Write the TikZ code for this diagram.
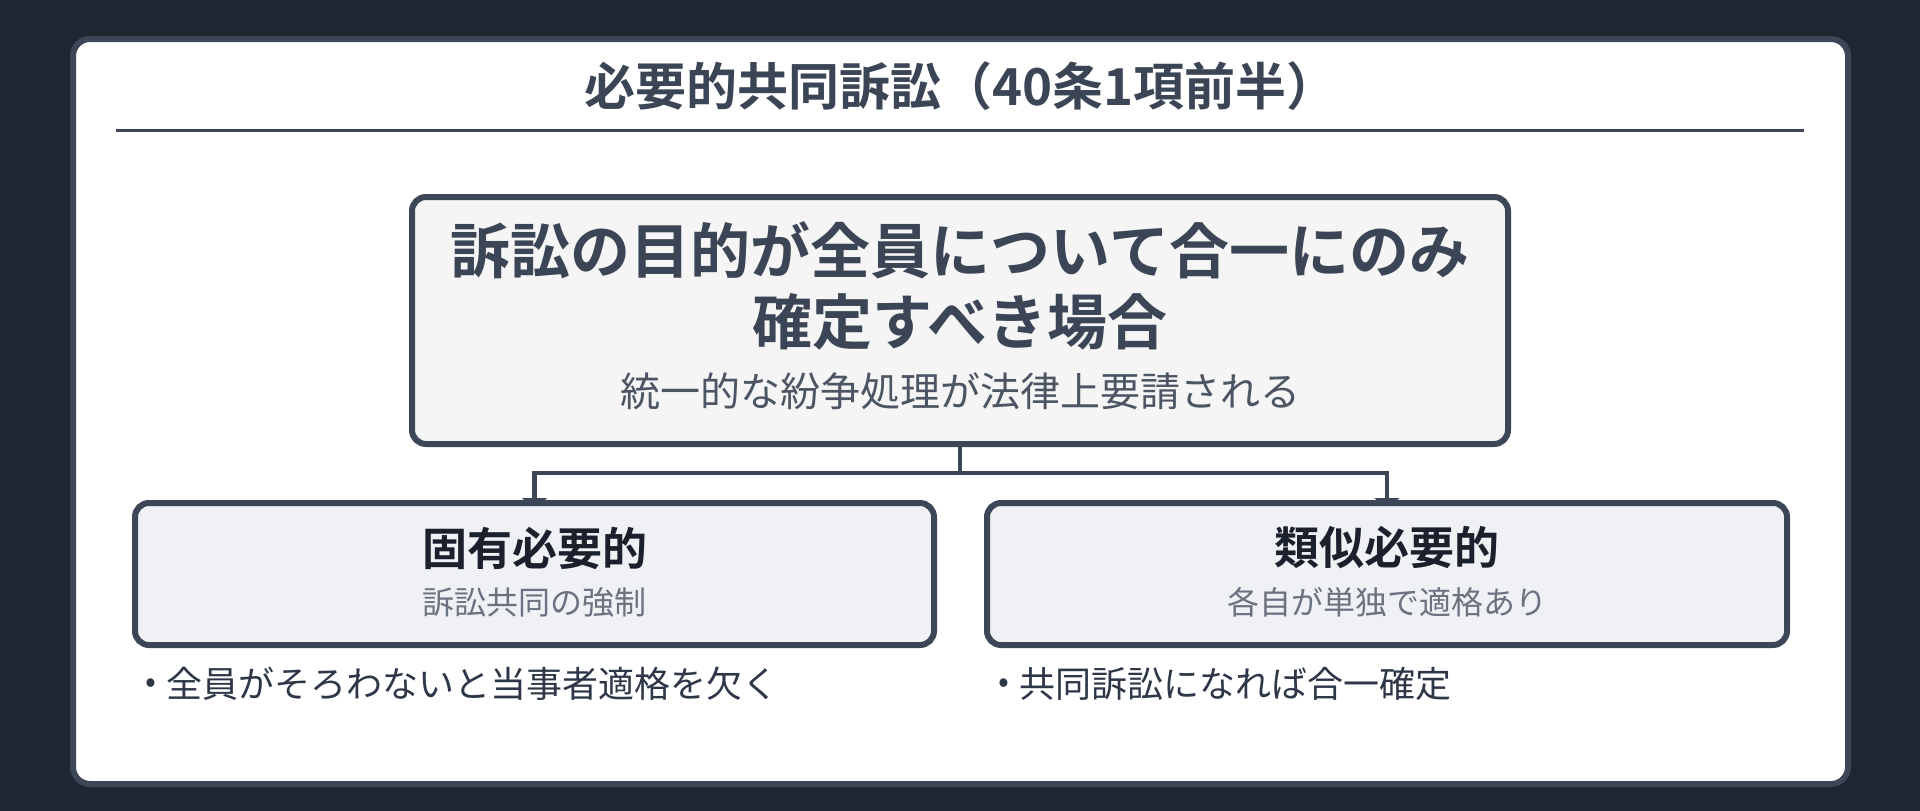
\documentclass[tikz,border=0pt]{standalone}
\usepackage{fontspec}
\newfontfamily\jp{Noto Sans CJK JP}[BoldFont={Noto Sans CJK JP Bold}]
\usetikzlibrary{arrows.meta}
\pgfdeclarelayer{back}
\pgfdeclarelayer{mid}
\pgfsetlayers{back,mid,main}
\definecolor{bgdark}{HTML}{1F2631}
\definecolor{bordercol}{HTML}{3C4656}
\definecolor{titlecol}{HTML}{3B4555}
\definecolor{subcol}{HTML}{4B5563}
\definecolor{mainfill}{HTML}{F5F5F5}
\definecolor{sidefill}{HTML}{EFF1F5}
\definecolor{sidetitle}{HTML}{1A202C}
\definecolor{sidesub}{HTML}{6B7280}
\definecolor{bullettext}{HTML}{2D3748}
\tikzset{
  txt/.style={inner sep=0pt, outer sep=0pt, font=\jp},
  mainbox/.style={draw=bordercol, line width=6pt, fill=mainfill, rounded corners=14pt, inner sep=0pt},
  sidebox/.style={draw=bordercol, line width=6pt, fill=sidefill, rounded corners=14pt, inner sep=0pt},
  conn/.style={draw=bordercol, line width=4.5pt, -{Triangle[width=25pt,length=10pt]}, shorten >=-8pt},
}
\begin{document}
\begin{tikzpicture}[x=1pt,y=-1pt]
\useasboundingbox (0,0) rectangle (1920,811);
\begin{pgfonlayer}{back}
\fill[bgdark] (0,0) rectangle (1920,811);
\draw[draw=bordercol, line width=6pt, fill=white, rounded corners=17pt] (73,39) rectangle (1848,784);
\end{pgfonlayer}

% title
\node[txt, text=titlecol, font=\jp\bfseries\fontsize{51}{61}\selectfont] (title) at (961,86) {必要的共同訴訟（40条1項前半）};
\coordinate (ruleL) at (116,130.5);
\coordinate (ruleR) at (1804,130.5);
\draw[draw=titlecol, line width=3pt] (ruleL) -- (ruleR);

% main box
\node[mainbox, minimum width=1096pt, minimum height=247pt] (main) at (960,320.5) {};
\node[txt, text=titlecol, font=\jp\bfseries\fontsize{60}{72}\selectfont] (m1) at (960,250) {訴訟の目的が全員について合一にのみ};
\node[txt, text=titlecol, font=\jp\bfseries\fontsize{60}{72}\selectfont] (m2) at (960,322) {確定すべき場合};
\node[txt, text=subcol, font=\jp\fontsize{40}{48}\selectfont] (m3) at (960,391) {統一的な紛争処理が法律上要請される};

% side boxes
\node[sidebox, minimum width=799pt, minimum height=142pt] (left) at (534.5,574) {};
\node[sidebox, minimum width=800pt, minimum height=142pt] (right) at (1387,574) {};

\node[txt, text=sidetitle, font=\jp\bfseries\fontsize{45}{54}\selectfont] (lt) at (534.5,548) {固有必要的};
\node[txt, text=sidesub, font=\jp\fontsize{32}{38}\selectfont] (ls) at (534.5,602) {訴訟共同の強制};
\node[txt, text=sidetitle, font=\jp\bfseries\fontsize{45}{54}\selectfont] (rt) at (1387,548) {類似必要的};
\node[txt, text=sidesub, font=\jp\fontsize{32}{38}\selectfont] (rs) at (1387,602) {各自が単独で適格あり};

% connectors
\begin{pgfonlayer}{mid}
\coordinate (split) at (960,473);
\draw[conn] (main.south) -- (split) -| (left.north);
\draw[conn] (main.south) -- (split) -| (right.north);
\end{pgfonlayer}

% bullets
\node[txt, text=bullettext, font=\jp\fontsize{32}{38}\selectfont] (b1) at (151,686) {•};
\node[txt, text=bullettext, font=\jp\fontsize{36}{43}\selectfont, anchor=west] (l1) at (166,684) {全員がそろわないと当事者適格を欠く};
\node[txt, text=bullettext, font=\jp\fontsize{32}{38}\selectfont] (b2) at (1004,686) {•};
\node[txt, text=bullettext, font=\jp\fontsize{36}{43}\selectfont, anchor=west] (l2) at (1019,684) {共同訴訟になれば合一確定};
\end{tikzpicture}
\end{document}
